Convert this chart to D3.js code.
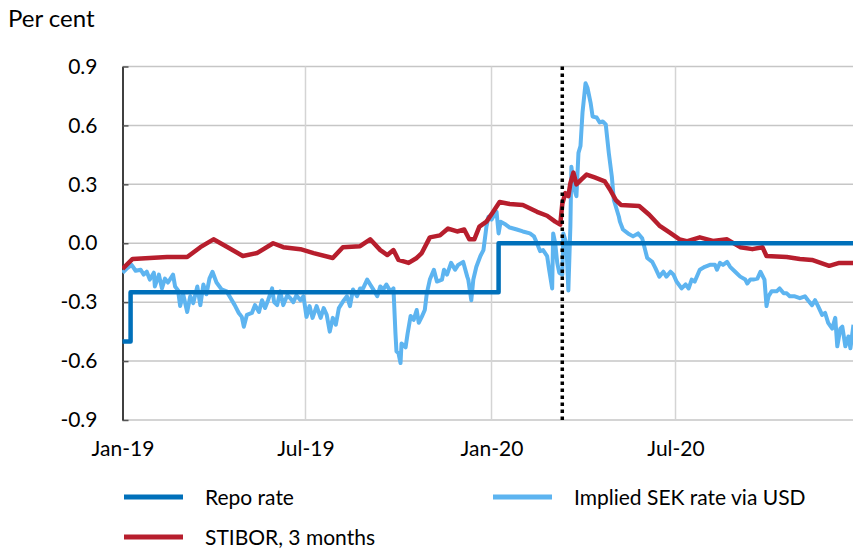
<!DOCTYPE html>
<html lang="en">

<head>
    <meta charset="UTF-8">
    <title>Repo rate, STIBOR and implied SEK rate</title>
    <style>
        body {
            margin: 0;
            background: #fff;
        }

        svg text {
            font-family: Lato, "Open Sans", sans-serif;
            fill: #000;
        }
    </style>
</head>

<body>
    <svg id="chart"></svg>

    <script src="https://cdnjs.cloudflare.com/ajax/libs/d3/7.9.0/d3.min.js"></script>
    <script>
        // Values (per cent)
        const repoRate = [
            ["2019-01-01", -0.50], ["2019-01-09", -0.25], ["2020-01-08", 0.00], ["2020-12-31", 0.00]
        ];

        const stibor3m = [
            ["2019-01-01", -0.13], ["2019-01-11", -0.08], ["2019-01-28", -0.075], ["2019-02-14", -0.07],
            ["2019-03-06", -0.07], ["2019-03-19", -0.02], ["2019-04-01", 0.02], ["2019-04-15", -0.02],
            ["2019-04-30", -0.065], ["2019-05-14", -0.05], ["2019-05-30", 0.00], ["2019-06-09", -0.02],
            ["2019-06-26", -0.03], ["2019-07-09", -0.05], ["2019-07-28", -0.075], ["2019-08-07", -0.02],
            ["2019-08-24", -0.015], ["2019-09-03", 0.02], ["2019-09-13", -0.035], ["2019-09-20", -0.06],
            ["2019-09-26", -0.035], ["2019-10-01", -0.085], ["2019-10-11", -0.10], ["2019-10-19", -0.075],
            ["2019-10-24", -0.05], ["2019-11-01", 0.03], ["2019-11-11", 0.04], ["2019-11-19", 0.075],
            ["2019-11-28", 0.06], ["2019-12-05", 0.07], ["2019-12-10", 0.02], ["2019-12-15", 0.02],
            ["2019-12-20", 0.085], ["2019-12-27", 0.11], ["2020-01-02", 0.155], ["2020-01-09", 0.21],
            ["2020-01-19", 0.20], ["2020-02-01", 0.195], ["2020-02-15", 0.16], ["2020-02-25", 0.14],
            ["2020-03-04", 0.11], ["2020-03-09", 0.095], ["2020-03-11", 0.20], ["2020-03-14", 0.255],
            ["2020-03-17", 0.24], ["2020-03-19", 0.305], ["2020-03-22", 0.36], ["2020-03-25", 0.30],
            ["2020-03-30", 0.325], ["2020-04-04", 0.35], ["2020-04-12", 0.335], ["2020-04-22", 0.315],
            ["2020-04-27", 0.275], ["2020-05-03", 0.22], ["2020-05-08", 0.195], ["2020-05-26", 0.19],
            ["2020-06-05", 0.145], ["2020-06-15", 0.09], ["2020-06-25", 0.055], ["2020-07-05", 0.02],
            ["2020-07-12", 0.01], ["2020-07-25", 0.03], ["2020-08-07", 0.012], ["2020-08-21", 0.02],
            ["2020-09-03", -0.02], ["2020-09-15", -0.03], ["2020-09-25", -0.02], ["2020-09-29", -0.065],
            ["2020-10-19", -0.07], ["2020-11-01", -0.08], ["2020-11-13", -0.085], ["2020-11-30", -0.115],
            ["2020-12-10", -0.10], ["2020-12-24", -0.10]
        ];

        const impliedSek = [
            ["2019-01-01", -0.15], ["2019-01-05", -0.13], ["2019-01-10", -0.11], ["2019-01-14", -0.14],
            ["2019-01-19", -0.135], ["2019-01-22", -0.16], ["2019-01-25", -0.145], ["2019-01-28", -0.185],
            ["2019-02-01", -0.15], ["2019-02-02", -0.22], ["2019-02-06", -0.16], ["2019-02-09", -0.23],
            ["2019-02-12", -0.18], ["2019-02-15", -0.20], ["2019-02-20", -0.16], ["2019-02-22", -0.22],
            ["2019-02-25", -0.24], ["2019-02-27", -0.32], ["2019-03-02", -0.26], ["2019-03-06", -0.35],
            ["2019-03-09", -0.27], ["2019-03-12", -0.305], ["2019-03-16", -0.22], ["2019-03-19", -0.315],
            ["2019-03-22", -0.21], ["2019-03-25", -0.26], ["2019-03-28", -0.18], ["2019-03-31", -0.145],
            ["2019-04-04", -0.20], ["2019-04-09", -0.235], ["2019-04-14", -0.245], ["2019-04-18", -0.28],
            ["2019-04-22", -0.315], ["2019-04-26", -0.355], ["2019-04-29", -0.375], ["2019-05-01", -0.425],
            ["2019-05-04", -0.365], ["2019-05-09", -0.355], ["2019-05-12", -0.315], ["2019-05-16", -0.35],
            ["2019-05-19", -0.29], ["2019-05-22", -0.33], ["2019-05-25", -0.29], ["2019-05-29", -0.23],
            ["2019-05-31", -0.30], ["2019-06-03", -0.315], ["2019-06-06", -0.245], ["2019-06-09", -0.315],
            ["2019-06-13", -0.265], ["2019-06-16", -0.28], ["2019-06-19", -0.30], ["2019-06-22", -0.265],
            ["2019-06-26", -0.29], ["2019-06-29", -0.27], ["2019-07-02", -0.375], ["2019-07-05", -0.32],
            ["2019-07-08", -0.38], ["2019-07-12", -0.32], ["2019-07-16", -0.38], ["2019-07-19", -0.33],
            ["2019-07-22", -0.365], ["2019-07-25", -0.45], ["2019-07-28", -0.38], ["2019-07-31", -0.415],
            ["2019-08-03", -0.33], ["2019-08-08", -0.29], ["2019-08-11", -0.27], ["2019-08-14", -0.32],
            ["2019-08-17", -0.235], ["2019-08-21", -0.27], ["2019-08-24", -0.23], ["2019-08-27", -0.23],
            ["2019-08-31", -0.185], ["2019-09-03", -0.21], ["2019-09-06", -0.235], ["2019-09-10", -0.27],
            ["2019-09-13", -0.22], ["2019-09-16", -0.235], ["2019-09-19", -0.21], ["2019-09-23", -0.245],
            ["2019-09-26", -0.23], ["2019-09-28", -0.46], ["2019-09-29", -0.55], ["2019-10-01", -0.56],
            ["2019-10-03", -0.61], ["2019-10-04", -0.51], ["2019-10-08", -0.53], ["2019-10-10", -0.46],
            ["2019-10-13", -0.37], ["2019-10-16", -0.39], ["2019-10-19", -0.34], ["2019-10-21", -0.405],
            ["2019-10-24", -0.375], ["2019-10-27", -0.34], ["2019-10-29", -0.255], ["2019-11-01", -0.185],
            ["2019-11-05", -0.135], ["2019-11-08", -0.195], ["2019-11-13", -0.185], ["2019-11-15", -0.135],
            ["2019-11-18", -0.16], ["2019-11-22", -0.10], ["2019-11-26", -0.135], ["2019-11-29", -0.11],
            ["2019-12-04", -0.095], ["2019-12-08", -0.17], ["2019-12-09", -0.185], ["2019-12-12", -0.29],
            ["2019-12-14", -0.185], ["2019-12-17", -0.12], ["2019-12-21", -0.065], ["2019-12-24", -0.035],
            ["2019-12-27", 0.085], ["2019-12-29", 0.135], ["2020-01-01", 0.12], ["2020-01-05", 0.155],
            ["2020-01-06", 0.16], ["2020-01-08", 0.05], ["2020-01-10", 0.11], ["2020-01-15", 0.095],
            ["2020-01-19", 0.08], ["2020-01-26", 0.07], ["2020-02-01", 0.06], ["2020-02-08", 0.05],
            ["2020-02-12", 0.035], ["2020-02-15", 0.00], ["2020-02-18", -0.04], ["2020-02-21", -0.035],
            ["2020-02-25", -0.065], ["2020-02-27", -0.135], ["2020-03-01", -0.23], ["2020-03-02", 0.05],
            ["2020-03-04", 0.00], ["2020-03-06", -0.10], ["2020-03-08", -0.15], ["2020-03-11", -0.16],
            ["2020-03-12", 0.05], ["2020-03-15", 0.00], ["2020-03-17", -0.24], ["2020-03-19", 0.085],
            ["2020-03-20", 0.39], ["2020-03-22", 0.305], ["2020-03-24", 0.255], ["2020-03-25", 0.24],
            ["2020-03-27", 0.46], ["2020-03-29", 0.495], ["2020-03-31", 0.665], ["2020-04-03", 0.815],
            ["2020-04-05", 0.79], ["2020-04-08", 0.715], ["2020-04-10", 0.645], ["2020-04-14", 0.64],
            ["2020-04-17", 0.615], ["2020-04-20", 0.62], ["2020-04-23", 0.605], ["2020-04-26", 0.46],
            ["2020-04-29", 0.34], ["2020-05-01", 0.22], ["2020-05-06", 0.135], ["2020-05-07", 0.11],
            ["2020-05-10", 0.07], ["2020-05-15", 0.05], ["2020-05-20", 0.035], ["2020-05-25", 0.05],
            ["2020-05-29", 0.025], ["2020-06-01", -0.035], ["2020-06-03", -0.075], ["2020-06-08", -0.095],
            ["2020-06-11", -0.125], ["2020-06-15", -0.17], ["2020-06-19", -0.145], ["2020-06-22", -0.17],
            ["2020-06-26", -0.145], ["2020-06-29", -0.16], ["2020-07-02", -0.195], ["2020-07-07", -0.23],
            ["2020-07-11", -0.21], ["2020-07-14", -0.23], ["2020-07-17", -0.185], ["2020-07-20", -0.195],
            ["2020-07-25", -0.135], ["2020-07-30", -0.12], ["2020-08-04", -0.11], ["2020-08-09", -0.11],
            ["2020-08-11", -0.135], ["2020-08-14", -0.10], ["2020-08-17", -0.11], ["2020-08-21", -0.095],
            ["2020-08-24", -0.12], ["2020-08-29", -0.145], ["2020-09-03", -0.17], ["2020-09-08", -0.185],
            ["2020-09-10", -0.205], ["2020-09-13", -0.185], ["2020-09-16", -0.185], ["2020-09-20", -0.18],
            ["2020-09-23", -0.145], ["2020-09-27", -0.185], ["2020-09-29", -0.32], ["2020-10-01", -0.27],
            ["2020-10-04", -0.245], ["2020-10-09", -0.245], ["2020-10-12", -0.23], ["2020-10-16", -0.255],
            ["2020-10-19", -0.255], ["2020-10-22", -0.27], ["2020-10-27", -0.27], ["2020-11-01", -0.28],
            ["2020-11-06", -0.27], ["2020-11-09", -0.29], ["2020-11-13", -0.315], ["2020-11-16", -0.29],
            ["2020-11-19", -0.32], ["2020-11-23", -0.365], ["2020-11-26", -0.355], ["2020-11-29", -0.405],
            ["2020-12-03", -0.435], ["2020-12-06", -0.38], ["2020-12-08", -0.525], ["2020-12-11", -0.435],
            ["2020-12-13", -0.425], ["2020-12-16", -0.525], ["2020-12-19", -0.475], ["2020-12-21", -0.535],
            ["2020-12-24", -0.415]
        ];

        const yTicks = [-0.9, -0.6, -0.3, 0.0, 0.3, 0.6, 0.9];
        const xTicks = ["2019-01-01", "2019-07-01", "2020-01-01", "2020-07-01"];
        const eventDate = "2020-03-11";

        const series = [
            { name: "Implied SEK rate via USD", data: impliedSek, color: "#5db4f0", width: 4 },
            { name: "STIBOR, 3 months", data: stibor3m, color: "#b71e2d", width: 4.5 },
            { name: "Repo rate", data: repoRate, color: "#0070ba", width: 4.5, step: true }
        ];

        const w = 853;
        const h = 549;
        const fontSize = "21px";
        const parse = d3.timeParse("%Y-%m-%d");

        const svg = d3.select("#chart")
            .attr("width", w)
            .attr("height", h);

        // Scales
        const xScale = d3.scaleTime()
            .domain([parse("2019-01-01"), parse("2021-01-01")])
            .range([122.5, 122.5 + 731 * 1.011]);

        const yScale = d3.scaleLinear()
            .domain([-0.9, 0.9])
            .range([420, 66.5]);

        svg.append("defs").append("clipPath")
            .attr("id", "plot-clip")
            .append("rect")
            .attr("x", 122)
            .attr("y", 40)
            .attr("width", w - 122)
            .attr("height", 400);

        // Gridlines
        svg.append("g")
            .selectAll("line")
            .data(yTicks)
            .enter()
            .append("line")
            .attr("x1", 122.5)
            .attr("x2", w)
            .attr("y1", d => yScale(d))
            .attr("y2", d => yScale(d))
            .attr("stroke", "#c6c6c6")
            .attr("stroke-width", 1.5);

        svg.append("g")
            .selectAll("line")
            .data(xTicks.slice(1))
            .enter()
            .append("line")
            .attr("x1", d => xScale(parse(d)))
            .attr("x2", d => xScale(parse(d)))
            .attr("y1", yScale(0.9))
            .attr("y2", yScale(-0.9))
            .attr("stroke", "#d4d4d4")
            .attr("stroke-width", 1.5);

        // Axes (plain hyphen for negatives, as in the original)
        const yAxis = d3.axisLeft(yScale)
            .tickValues(yTicks)
            .tickSizeInner(-6)
            .tickSizeOuter(0)
            .tickPadding(25)
            .tickFormat(d => d.toFixed(1));

        const yAxisG = svg.append("g")
            .attr("id", "y-axis")
            .attr("transform", "translate(122.5,0)")
            .call(yAxis);
        yAxisG.select(".domain").attr("stroke", "#000").attr("stroke-width", 1.5);
        yAxisG.selectAll(".tick line").attr("stroke", "#555").attr("stroke-width", 1.5);
        yAxisG.selectAll("text").style("font-size", fontSize);

        const xAxis = d3.axisBottom(xScale)
            .tickValues(xTicks.map(parse))
            .tickSize(0)
            .tickPadding(21)
            .tickFormat(d3.timeFormat("%b-%y"));

        const xAxisG = svg.append("g")
            .attr("id", "x-axis")
            .attr("transform", "translate(0,420)")
            .call(xAxis);
        xAxisG.select(".domain").remove();
        xAxisG.selectAll("text").style("font-size", fontSize);

        // Lines
        const plot = svg.append("g").attr("clip-path", "url(#plot-clip)");

        series.forEach(s => {
            const line = d3.line()
                .x(d => xScale(parse(d[0])))
                .y(d => yScale(d[1]))
                .curve(s.step ? d3.curveStepAfter : d3.curveLinear);

            plot.append("path")
                .datum(s.data)
                .attr("fill", "none")
                .attr("stroke", s.color)
                .attr("stroke-width", s.width)
                .attr("stroke-linejoin", "round")
                .attr("d", line);
        });

        // Dotted marker line
        plot.append("line")
            .attr("x1", xScale(parse(eventDate)))
            .attr("x2", xScale(parse(eventDate)))
            .attr("y1", yScale(0.9))
            .attr("y2", yScale(-0.9))
            .attr("stroke", "#000")
            .attr("stroke-width", 3.5)
            .attr("stroke-dasharray", "3.5,3.5");

        svg.append("text")
            .attr("x", 8)
            .attr("y", 27)
            .style("font-size", "24px")
            .text("Per cent");

        // Legend
        const legendItems = [
            { s: series[2], x: 124, y: 497 },
            { s: series[0], x: 493, y: 497 },
            { s: series[1], x: 124, y: 537 }
        ];

        const legend = svg.append("g")
            .selectAll("g")
            .data(legendItems)
            .enter()
            .append("g")
            .attr("transform", d => "translate(" + d.x + "," + d.y + ")");

        legend.append("line")
            .attr("x1", 0)
            .attr("x2", 59)
            .attr("stroke", d => d.s.color)
            .attr("stroke-width", 5);

        legend.append("text")
            .attr("x", 81)
            .attr("y", 7.5)
            .style("font-size", fontSize)
            .text(d => d.s.name);
    </script>
</body>

</html>
